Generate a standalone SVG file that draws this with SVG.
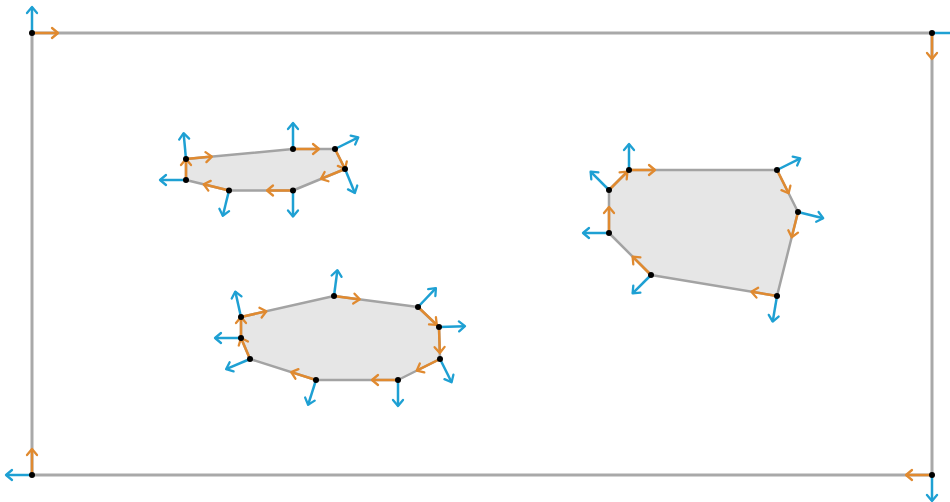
<svg xmlns="http://www.w3.org/2000/svg" width="950" height="502" viewBox="0 0 950 502">
  <style>
    .outline { fill: none; stroke: #a9a9a9; stroke-width: 3; }
    .hole { fill: #e6e6e6; stroke: #a3a3a3; stroke-width: 2.5; stroke-linejoin: round; }
    .edge { stroke: #e08a30; stroke-width: 2.5; fill: none; marker-end: url(#headOrange); }
    .normal { stroke: #1ea0d3; stroke-width: 2.5; fill: none; marker-end: url(#headBlue); }
    .vtx { fill: #000; }
  </style>
  <defs>
    <marker id="headOrange" markerUnits="userSpaceOnUse" viewBox="-8 -6 10 12" refX="0" refY="0" markerWidth="10" markerHeight="12" orient="auto" overflow="visible">
      <path d="M -6 -5 L 0 0 L -6 5" fill="none" stroke="#e08a30" stroke-width="2.3" stroke-linecap="round" stroke-linejoin="round"/>
    </marker>
    <marker id="headBlue" markerUnits="userSpaceOnUse" viewBox="-8 -6 10 12" refX="0" refY="0" markerWidth="10" markerHeight="12" orient="auto" overflow="visible">
      <path d="M -6 -5 L 0 0 L -6 5" fill="none" stroke="#1ea0d3" stroke-width="2.3" stroke-linecap="round" stroke-linejoin="round"/>
    </marker>
  </defs>

  <!-- outer boundary -->
  <g id="boundary">
    <polygon class="outline" points="32,33 932,33 932,475 32,475"/>
  </g>

  <!-- interior polygons -->
  <g id="polyA">
    <polygon class="hole" points="186,159 293,149 335,149 345,169 293,190.5 229,190.5 186,180"/>
  </g>
  <g id="polyB">
    <polygon class="hole" points="629,170 777,170 798,212 777,296 651,275 609,233 609,190"/>
  </g>
  <g id="polyC">
    <polygon class="hole" points="241,317 334,296 418,307 439,327 440,359 398,380 316,380 250,359 241,338"/>
  </g>

  <!-- edge directions (orange) and vertex normals (blue) -->
  <g id="connectors">
    <!-- boundary -->
    <line class="edge" x1="32" y1="33" x2="58" y2="33"/>
    <line class="edge" x1="932" y1="33" x2="932" y2="59"/>
    <line class="edge" x1="932" y1="475" x2="906" y2="475"/>
    <line class="edge" x1="32" y1="475" x2="32" y2="449"/>
    <line class="normal" x1="32" y1="33" x2="32" y2="7"/>
    <line class="normal" x1="932" y1="33" x2="958" y2="33"/>
    <line class="normal" x1="932" y1="475" x2="932" y2="501"/>
    <line class="normal" x1="32" y1="475" x2="6" y2="475"/>

    <!-- polyA -->
    <line class="edge" x1="186" y1="159" x2="211.9" y2="156.6"/>
    <line class="edge" x1="293" y1="149" x2="319" y2="149"/>
    <line class="edge" x1="335" y1="149" x2="345" y2="169"/>
    <line class="edge" x1="345" y1="169" x2="321" y2="178.9"/>
    <line class="edge" x1="293" y1="190.5" x2="267" y2="190.5"/>
    <line class="edge" x1="229" y1="190.5" x2="203.7" y2="184.3"/>
    <line class="edge" x1="186" y1="180" x2="186" y2="159"/>
    <line class="normal" x1="186" y1="159" x2="183.6" y2="133.1"/>
    <line class="normal" x1="293" y1="149" x2="293" y2="123"/>
    <line class="normal" x1="335" y1="149" x2="358.3" y2="137.4"/>
    <line class="normal" x1="345" y1="169" x2="354.9" y2="193"/>
    <line class="normal" x1="293" y1="190.5" x2="293" y2="216.5"/>
    <line class="normal" x1="229" y1="190.5" x2="222.8" y2="215.8"/>
    <line class="normal" x1="186" y1="180" x2="160" y2="180"/>

    <!-- polyB -->
    <line class="edge" x1="629" y1="170" x2="655" y2="170"/>
    <line class="edge" x1="777" y1="170" x2="788.6" y2="193.3"/>
    <line class="edge" x1="798" y1="212" x2="791.7" y2="237.2"/>
    <line class="edge" x1="777" y1="296" x2="751.4" y2="291.7"/>
    <line class="edge" x1="651" y1="275" x2="632.6" y2="256.6"/>
    <line class="edge" x1="609" y1="233" x2="609" y2="207"/>
    <line class="edge" x1="609" y1="190" x2="627.4" y2="171.6"/>
    <line class="normal" x1="629" y1="170" x2="629" y2="144"/>
    <line class="normal" x1="777" y1="170" x2="800.3" y2="158.4"/>
    <line class="normal" x1="798" y1="212" x2="823.2" y2="218.3"/>
    <line class="normal" x1="777" y1="296" x2="772.7" y2="321.6"/>
    <line class="normal" x1="651" y1="275" x2="632.6" y2="293.4"/>
    <line class="normal" x1="609" y1="233" x2="583" y2="233"/>
    <line class="normal" x1="609" y1="190" x2="590.6" y2="171.6"/>

    <!-- polyC -->
    <line class="edge" x1="241" y1="317" x2="266.4" y2="311.3"/>
    <line class="edge" x1="334" y1="296" x2="359.8" y2="299.4"/>
    <line class="edge" x1="418" y1="307" x2="436.8" y2="324.9"/>
    <line class="edge" x1="439" y1="327" x2="439.8" y2="353"/>
    <line class="edge" x1="440" y1="359" x2="416.7" y2="370.6"/>
    <line class="edge" x1="398" y1="380" x2="372" y2="380"/>
    <line class="edge" x1="316" y1="380" x2="291.2" y2="372.1"/>
    <line class="edge" x1="250" y1="359" x2="241" y2="338"/>
    <line class="edge" x1="241" y1="338" x2="241" y2="317"/>
    <line class="normal" x1="241" y1="317" x2="235.3" y2="291.6"/>
    <line class="normal" x1="334" y1="296" x2="337.4" y2="270.2"/>
    <line class="normal" x1="418" y1="307" x2="435.9" y2="288.2"/>
    <line class="normal" x1="439" y1="327" x2="465" y2="326.2"/>
    <line class="normal" x1="440" y1="359" x2="451.6" y2="382.3"/>
    <line class="normal" x1="398" y1="380" x2="398" y2="406"/>
    <line class="normal" x1="316" y1="380" x2="308.1" y2="404.8"/>
    <line class="normal" x1="250" y1="359" x2="226.1" y2="369.2"/>
    <line class="normal" x1="241" y1="338" x2="215" y2="338"/>
  </g>

  <!-- vertices -->
  <g id="vertices">
    <circle class="vtx" cx="32" cy="33" r="3"/>
    <circle class="vtx" cx="932" cy="33" r="3"/>
    <circle class="vtx" cx="932" cy="475" r="3"/>
    <circle class="vtx" cx="32" cy="475" r="3"/>

    <circle class="vtx" cx="186" cy="159" r="3"/>
    <circle class="vtx" cx="293" cy="149" r="3"/>
    <circle class="vtx" cx="335" cy="149" r="3"/>
    <circle class="vtx" cx="345" cy="169" r="3"/>
    <circle class="vtx" cx="293" cy="190.5" r="3"/>
    <circle class="vtx" cx="229" cy="190.5" r="3"/>
    <circle class="vtx" cx="186" cy="180" r="3"/>

    <circle class="vtx" cx="629" cy="170" r="3"/>
    <circle class="vtx" cx="777" cy="170" r="3"/>
    <circle class="vtx" cx="798" cy="212" r="3"/>
    <circle class="vtx" cx="777" cy="296" r="3"/>
    <circle class="vtx" cx="651" cy="275" r="3"/>
    <circle class="vtx" cx="609" cy="233" r="3"/>
    <circle class="vtx" cx="609" cy="190" r="3"/>

    <circle class="vtx" cx="241" cy="317" r="3"/>
    <circle class="vtx" cx="334" cy="296" r="3"/>
    <circle class="vtx" cx="418" cy="307" r="3"/>
    <circle class="vtx" cx="439" cy="327" r="3"/>
    <circle class="vtx" cx="440" cy="359" r="3"/>
    <circle class="vtx" cx="398" cy="380" r="3"/>
    <circle class="vtx" cx="316" cy="380" r="3"/>
    <circle class="vtx" cx="250" cy="359" r="3"/>
    <circle class="vtx" cx="241" cy="338" r="3"/>
  </g>
</svg>
